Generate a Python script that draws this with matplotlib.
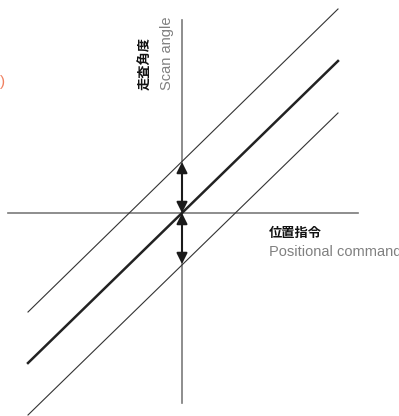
import matplotlib.pyplot as plt

plt.rcParams['font.family'] = ['Liberation Sans', 'Noto Sans CJK JP', 'DejaVu Sans']

# line ends, origin at the axis crossing (pixel-ish units)
line_x = [-154, 156]
center_y = [-150, 152]
upper_y = [-99, 204]
lower_y = [-202, 100]

# axis extents
haxis_x = [-174, 176]
vaxis_y = [-190, 193]

# arrow tips on the vertical axis
arrow_tips = [51, -51]

fig = plt.figure(figsize=(3.99, 4.16), dpi=100)
ax = fig.add_axes([0, 0, 1, 1])
ax.set_xlim(-182, 217)
ax.set_ylim(-203, 213)
ax.axis('off')

gray = '#7a7a7a'
ax.plot(haxis_x, [0, 0], color=gray, lw=1.2)
ax.plot([0, 0], vaxis_y, color=gray, lw=1.2)

ax.plot(line_x, upper_y, color='#333333', lw=0.8)
ax.plot(line_x, lower_y, color='#333333', lw=0.8)
ax.plot(line_x, center_y, color='#222222', lw=1.8)

for tip in arrow_tips:
    ax.annotate('', xy=(0, tip), xytext=(0, 0),
                arrowprops=dict(arrowstyle='<|-|>', color='#1a1a1a', lw=1.5,
                                mutation_scale=16, shrinkA=0, shrinkB=0))

cjk = ['Noto Sans CJK JP', 'DejaVu Sans']
ax.text(-37, 123, '走査角度', rotation=90, fontsize=9.5, color='#111111',
        ha='center', va='bottom', fontweight='bold', family=cjk)
ax.text(-15, 123, 'Scan angle', rotation=90, fontsize=10.5, color='#808080',
        ha='center', va='bottom')

ax.text(87, -20, '位置指令', fontsize=9.5, color='#111111', ha='left',
        va='center', fontweight='bold', family=cjk)
ax.text(87, -39, 'Positional command', fontsize=10.5, color='#808080',
        ha='left', va='center')

ax.text(-177, 131, ')', fontsize=11, color='#f08060', ha='right', va='center')

fig.savefig('out.png', dpi=100)
